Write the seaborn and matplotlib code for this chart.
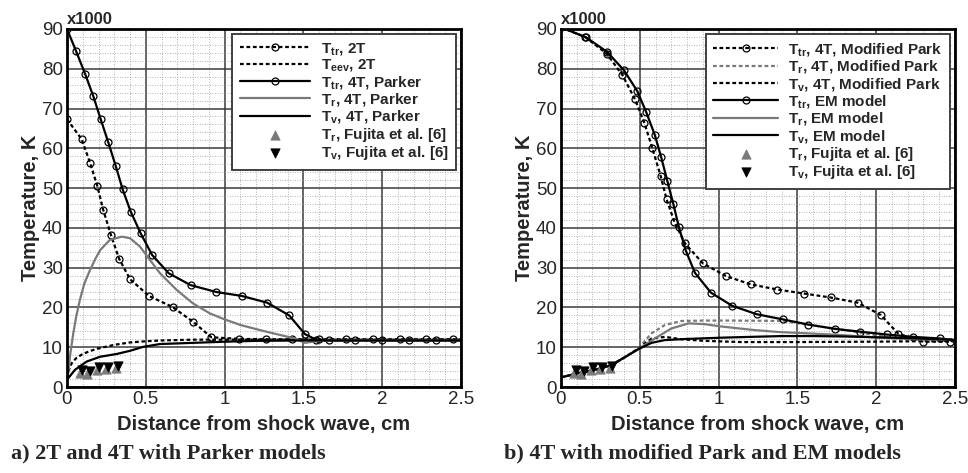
import numpy as np
import pandas as pd
import matplotlib
matplotlib.use('Agg')
import matplotlib.pyplot as plt
from matplotlib.ticker import MultipleLocator
import seaborn as sns

# ---- panel a) 2T and 4T with Parker models ----
a_ttr2t_x = [0, 0.093, 0.146, 0.192, 0.23, 0.279, 0.33, 0.40, 0.52, 0.67, 0.80, 0.916,
             1.09, 1.26, 1.43, 1.60, 1.77, 1.94, 2.11, 2.28, 2.45, 2.5]
a_ttr2t_y = [67.3, 62.3, 56.4, 50.6, 44.5, 38.2, 32.3, 27.1, 22.9, 20.1, 16.4, 12.5,
             12.1, 12.0, 12.0, 12.0, 12.0, 12.0, 12.0, 12.0, 12.0, 12.0]
a_teev_x = [0, 0.01, 0.03, 0.06, 0.1, 0.15, 0.2, 0.3, 0.4, 0.5, 0.6, 0.8, 1.0, 1.5, 2.0, 2.5]
a_teev_y = [2.3, 4.0, 6.0, 7.3, 8.3, 9.1, 9.7, 10.6, 11.2, 11.5, 11.7, 11.9, 11.9, 11.9, 11.9, 11.9]
a_ttr4t_x = [0, 0.057, 0.114, 0.167, 0.214, 0.262, 0.309, 0.353, 0.404, 0.468, 0.54, 0.645,
             0.785, 0.945, 1.108, 1.27, 1.41, 1.51, 1.58, 1.66, 1.83, 2.00, 2.17, 2.34, 2.5]
a_ttr4t_y = [90, 84.5, 78.8, 73.1, 67.3, 61.5, 55.6, 49.7, 44.1, 38.6, 33.2, 28.6,
             25.6, 23.9, 22.9, 21.2, 18.0, 13.3, 11.9, 11.7, 11.7, 11.7, 11.7, 11.7, 11.7]
a_tr4t_x = [0, 0.008, 0.02, 0.04, 0.06, 0.082, 0.11, 0.146, 0.18, 0.21, 0.27, 0.347, 0.40,
            0.463, 0.527, 0.59, 0.696, 0.80, 0.907, 1.0, 1.10, 1.225, 1.35, 1.447, 1.51,
            1.56, 1.65, 2.0, 2.5]
a_tr4t_y = [2.0, 3.4, 8.0, 13.5, 18.0, 21.9, 26.0, 29.4, 32.2, 34.4, 36.9, 37.8, 37.4,
            35.3, 31.9, 28.6, 24.4, 21.0, 18.5, 17.0, 15.6, 14.3, 13.1, 12.2, 11.1,
            11.4, 11.7, 11.7, 11.7]
a_tv4t_x = [0, 0.05, 0.125, 0.21, 0.315, 0.40, 0.484, 0.59, 0.80, 1.01, 1.2, 1.5, 2.0, 2.5]
a_tv4t_y = [1.8, 4.3, 6.4, 7.6, 8.3, 9.1, 10.1, 10.8, 11.1, 11.4, 11.6, 11.7, 11.7, 11.7]

# Fujita et al. [6] measurements (same in both panels)
fuj_tr_x = [0.08, 0.13, 0.19, 0.25, 0.31]
fuj_tr_y = [3.5, 3.3, 4.3, 4.5, 4.7]
fuj_tv_x = [0.093, 0.146, 0.205, 0.262, 0.326]
fuj_tv_y = [4.3, 3.9, 5.1, 5.1, 5.4]

# ---- panel b) 4T with modified Park and EM models ----
b_ttrmp_x = [0, 0.152, 0.29, 0.39, 0.47, 0.53, 0.58, 0.633, 0.67, 0.72, 0.787, 0.90, 1.047,
             1.204, 1.373, 1.542, 1.711, 1.883, 2.03, 2.14, 2.30, 2.47, 2.5]
b_ttrmp_y = [90.4, 88.0, 83.8, 78.4, 72.3, 66.3, 60.0, 53.0, 47.2, 41.5, 36.1, 31.1, 27.9,
             25.8, 24.5, 23.5, 22.5, 21.2, 18.1, 13.4, 11.4, 11.4, 11.5]
b_trmp_x = [0, 0.09, 0.216, 0.32, 0.41, 0.49, 0.575, 0.66, 0.766, 0.9, 1.1, 1.4, 1.6,
            1.77, 2.0, 2.15, 2.3, 2.5]
b_trmp_y = [2.4, 3.3, 4.3, 5.5, 7.6, 9.7, 13.5, 15.6, 16.6, 16.7, 16.7, 16.6, 15.5,
            14.5, 13.0, 12.2, 11.8, 11.7]
b_tvmp_x = [0, 0.09, 0.216, 0.32, 0.41, 0.49, 0.52, 0.575, 0.66, 0.766, 0.91, 1.146, 1.5,
            2.0, 2.5]
b_tvmp_y = [2.4, 3.3, 4.3, 5.5, 7.6, 9.6, 10.5, 12.2, 12.6, 12.0, 11.6, 11.3, 11.3,
            11.4, 11.6]
b_ttrem_x = [0, 0.159, 0.294, 0.40, 0.484, 0.54, 0.596, 0.635, 0.675, 0.713, 0.749, 0.793,
             0.85, 0.952, 1.087, 1.242, 1.407, 1.569, 1.74, 1.90, 2.066, 2.235, 2.405, 2.5]
b_ttrem_y = [90.4, 87.9, 84.2, 79.6, 74.4, 69.2, 63.3, 57.9, 51.8, 46.0, 40.1, 34.2,
             28.7, 23.7, 20.4, 18.3, 17.0, 15.7, 14.6, 13.9, 13.2, 12.6, 12.2, 11.8]
b_trem_x = [0, 0.09, 0.216, 0.32, 0.41, 0.49, 0.596, 0.70, 0.81, 0.91, 1.02, 1.23, 1.39,
            1.56, 1.8, 2.02, 2.25, 2.5]
b_trem_y = [2.4, 3.3, 4.3, 5.5, 7.6, 9.5, 12.2, 14.7, 16.0, 15.8, 15.2, 14.3, 13.8,
            13.5, 13.0, 12.4, 12.0, 11.8]
b_tvem_x = [0, 0.09, 0.216, 0.32, 0.41, 0.49, 0.575, 0.66, 0.81, 1.02, 1.2, 1.4, 1.6,
            1.8, 2.0, 2.2, 2.4, 2.5]
b_tvem_y = [2.4, 3.3, 4.3, 5.5, 7.6, 9.5, 11.1, 11.8, 12.1, 12.4, 12.6, 12.8, 12.8,
            12.7, 12.5, 12.3, 12.0, 11.8]

sns.set_style('white')
plt.rcParams['font.family'] = ['Liberation Sans', 'DejaVu Sans']
plt.rcParams['mathtext.fontset'] = 'custom'
plt.rcParams['mathtext.rm'] = 'Liberation Sans:bold'
plt.rcParams['mathtext.it'] = 'Liberation Sans:bold'
plt.rcParams['mathtext.bf'] = 'Liberation Sans:bold'

GRAY = '#7a7a7a'
DOT = (0, (1.7, 1.2))
LW = 1.6
mk = dict(marker='o', markersize=5, markerfacecolor='none', markeredgecolor='black',
          markeredgewidth=0.9)

fig = plt.figure(figsize=(9.68, 4.73), dpi=100)
ax_a = fig.add_axes([0.0692, 0.1818, 0.407, 0.757])
ax_b = fig.add_axes([0.5795, 0.1818, 0.407, 0.757])


def line(ax, x, y, label, color='black', ls='-', marker=False):
    kw = dict(mk, markevery=slice(0, -1)) if marker else {}
    sns.lineplot(x=x, y=y, ax=ax, color=color, linestyle=ls, linewidth=LW,
                 label=label, sort=False, estimator=None, **kw)


def fujita(ax):
    sns.scatterplot(x=fuj_tr_x, y=fuj_tr_y, ax=ax, marker='^', s=45, color=GRAY,
                    edgecolor=GRAY, label='T$_{\\mathrm{r}}$, Fujita et al. [6]', zorder=4)
    sns.scatterplot(x=fuj_tv_x, y=fuj_tv_y, ax=ax, marker='v', s=45, color='black',
                    edgecolor='black', label='T$_{\\mathrm{v}}$, Fujita et al. [6]', zorder=5)


line(ax_a, a_ttr2t_x, a_ttr2t_y, 'T$_{\\mathrm{tr}}$, 2T', ls=DOT, marker=True)
line(ax_a, a_teev_x, a_teev_y, 'T$_{\\mathrm{eev}}$, 2T', ls=DOT)
line(ax_a, a_ttr4t_x, a_ttr4t_y, 'T$_{\\mathrm{tr}}$, 4T, Parker', marker=True)
line(ax_a, a_tr4t_x, a_tr4t_y, 'T$_{\\mathrm{r}}$, 4T, Parker', color=GRAY)
line(ax_a, a_tv4t_x, a_tv4t_y, 'T$_{\\mathrm{v}}$, 4T, Parker')
fujita(ax_a)

line(ax_b, b_ttrmp_x, b_ttrmp_y, 'T$_{\\mathrm{tr}}$, 4T, Modified Park', ls=DOT, marker=True)
line(ax_b, b_trmp_x, b_trmp_y, 'T$_{\\mathrm{r}}$, 4T, Modified Park', color=GRAY, ls=DOT)
line(ax_b, b_tvmp_x, b_tvmp_y, 'T$_{\\mathrm{v}}$, 4T, Modified Park', ls=DOT)
line(ax_b, b_ttrem_x, b_ttrem_y, 'T$_{\\mathrm{tr}}$, EM model', marker=True)
line(ax_b, b_trem_x, b_trem_y, 'T$_{\\mathrm{r}}$, EM model', color=GRAY)
line(ax_b, b_tvem_x, b_tvem_y, 'T$_{\\mathrm{v}}$, EM model')
fujita(ax_b)

for ax, hl in ((ax_a, 4.6), (ax_b, 4.2)):
    ax.set_xlim(0, 2.5)
    ax.set_ylim(0, 90)
    ax.xaxis.set_major_locator(MultipleLocator(0.5))
    ax.xaxis.set_minor_locator(MultipleLocator(0.1))
    ax.yaxis.set_major_locator(MultipleLocator(10))
    ax.yaxis.set_minor_locator(MultipleLocator(2))
    ax.set_xticks([0, 0.5, 1, 1.5, 2, 2.5])
    ax.set_xticklabels(['0', '0.5', '1', '1.5', '2', '2.5'])
    ax.grid(which='major', color='#3c3c3c', linewidth=1.1, linestyle='-')
    ax.grid(which='minor', color='#9a9a9a', linewidth=0.6, linestyle=(0, (1, 2)))
    ax.set_axisbelow(True)
    ax.tick_params(which='both', direction='in', top=False, right=False,
                   labelsize=13.5, width=1, color='black')
    ax.tick_params(which='major', length=6, pad=3)
    ax.tick_params(which='minor', length=5)
    for sp in ax.spines.values():
        sp.set_linewidth(2.0)
        sp.set_color('black')
    ax.set_xlabel('Distance from shock wave, cm', fontsize=14.5, fontweight='bold', labelpad=5)
    ax.set_ylabel('Temperature, K', fontsize=14.5, fontweight='bold', labelpad=1)
    ax.text(0, 1.005, 'x1000', transform=ax.transAxes, ha='left', va='bottom',
            fontsize=12, fontweight='bold')
    leg = ax.legend(loc='upper right', handlelength=hl, labelspacing=0.02,
                    borderaxespad=0.3, fancybox=False, framealpha=1, edgecolor='#404040',
                    borderpad=0.5, handletextpad=0.7, prop={'weight': 'bold', 'size': 11})
    plt.setp(leg.get_texts(), fontweight='bold')
    leg.get_frame().set_linewidth(1.4)

fig.text(0.011, 0.042, 'a) 2T and 4T with Parker models', family='Liberation Serif',
         fontweight='bold', fontsize=16, ha='left', va='center')
fig.text(0.521, 0.042, 'b) 4T with modified Park and EM models', family='Liberation Serif',
         fontweight='bold', fontsize=16, ha='left', va='center')

fig.savefig('out.png', dpi=100)
